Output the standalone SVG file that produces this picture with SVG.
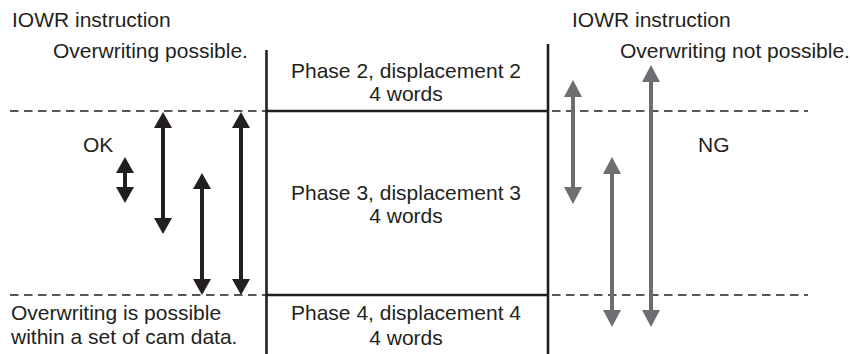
<svg xmlns="http://www.w3.org/2000/svg" width="850" height="354" viewBox="0 0 850 354">
<style>
text{font-family:"Liberation Sans",Arial,sans-serif;font-size:21px;fill:#231f20}
.c{text-anchor:middle}
.dash{stroke:#231f20;stroke-width:1.7;stroke-dasharray:8.5 5.5;fill:none}
.solid{stroke:#231f20;stroke-width:2.6;fill:none}
.ab{fill:#231f20}
.ag{fill:#6d6e71}
</style>
<rect width="850" height="354" fill="#fff"/>
<g id="labels">
<text x="12" y="27">IOWR instruction</text>
<text x="53" y="58">Overwriting possible.</text>
<text x="572" y="27">IOWR instruction</text>
<text x="620" y="58">Overwriting not possible.</text>
<text x="83" y="152">OK</text>
<text x="698" y="152">NG</text>
<text x="11" y="320">Overwriting is possible</text>
<text x="11" y="344">within a set of cam data.</text>
</g>
<g id="phase2">
<text class="c" x="406" y="78">Phase 2, displacement 2</text>
<text class="c" x="406" y="101">4 words</text>
</g>
<g id="phase3">
<text class="c" x="406" y="200">Phase 3, displacement 3</text>
<text class="c" x="406" y="223">4 words</text>
</g>
<g id="phase4">
<text class="c" x="406" y="320">Phase 4, displacement 4</text>
<text class="c" x="406" y="345">4 words</text>
</g>
<g id="connectors">
<line class="dash" x1="10" y1="111" x2="266" y2="111"/>
<line class="dash" x1="552" y1="111" x2="808" y2="111"/>
<line class="dash" x1="10" y1="295" x2="266" y2="295"/>
<line class="dash" x1="552" y1="295" x2="808" y2="295"/>
<line class="solid" x1="266.5" y1="50" x2="266.5" y2="354"/>
<line class="solid" x1="548" y1="44" x2="548" y2="354"/>
<line class="solid" x1="266" y1="111" x2="548" y2="111"/>
<line class="solid" x1="266" y1="295" x2="548" y2="295"/>
<path class="ab" d="M125,157 L134,173 L127,173 L127,187 L134,187 L125,203 L116,187 L123,187 L123,173 L116,173 Z"/>
<path class="ab" d="M163,112 L172,128 L165,128 L165,218 L172,218 L163,234 L154,218 L161,218 L161,128 L154,128 Z"/>
<path class="ab" d="M202,173 L211,189 L204,189 L204,279 L211,279 L202,295 L193,279 L200,279 L200,189 L193,189 Z"/>
<path class="ab" d="M241,112 L250,128 L243,128 L243,279 L250,279 L241,295 L232,279 L239,279 L239,128 L232,128 Z"/>
<path class="ag" d="M573,80 L582,97 L575,97 L575,187 L582,187 L573,204 L564,187 L571,187 L571,97 L564,97 Z"/>
<path class="ag" d="M612,157 L621,174 L614,174 L614,310 L621,310 L612,327 L603,310 L610,310 L610,174 L603,174 Z"/>
<path class="ag" d="M651,65 L660,82 L653,82 L653,310 L660,310 L651,327 L642,310 L649,310 L649,82 L642,82 Z"/>
</g>
</svg>
